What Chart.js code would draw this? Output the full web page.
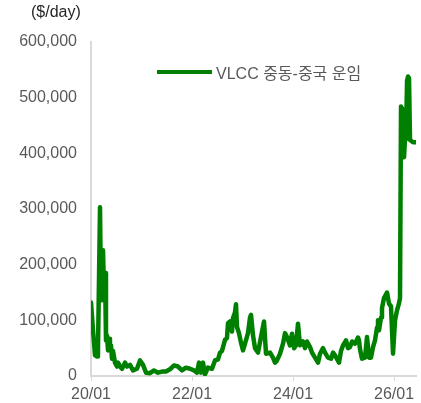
<!DOCTYPE html>
<html>
<head>
<meta charset="utf-8">
<script src="https://cdn.jsdelivr.net/npm/chart.js@4"></script>
<style>
body{margin:0;background:#fff;font-family:"Liberation Sans",Arial,"Noto Sans CJK KR",sans-serif;}
#wrap{position:relative;width:421px;height:403px;}
#unit{position:absolute;left:31px;top:3px;font-size:16px;color:#262626;}
#legend{position:absolute;left:157px;top:62px;height:20px;display:flex;align-items:center;font-size:16px;color:#595959;}
#legend .swatch{width:55px;height:4px;background:#008000;margin-right:4px;}
</style>
</head>
<body>
<div id="wrap">
<canvas id="chart" width="421" height="403"></canvas>
<div id="unit">($/day)</div>
<div id="legend"><span class="swatch"></span><span>VLCC 중동-중국 운임</span></div>
</div>
<script>
// months since 2020/01
let months=[0,0.48,0.95,1.43,1.66,2.14,2.38,2.5,2.61,2.85,3.09,3.33,3.56,3.8,4.04,4.28,4.51,4.75,4.99,5.23,5.7,6.18,6.42,6.89,7.37,8.08,8.55,9.27,9.98,10.93,11.64,12.36,13.07,14.02,14.97,15.92,16.87,17.82,18.77,19.72,20.67,21.62,22.57,23.52,24.47,25.19,25.66,26.14,26.61,27.09,27.8,28.75,29.46,30.18,30.65,31.12,31.84,32.31,32.55,33.02,33.5,33.74,34.21,34.45,34.69,35.16,35.64,36.12,36.59,37.3,37.78,38.02,38.49,38.97,39.68,40.39,41.11,41.58,42.53,43.24,43.72,44.19,44.91,45.62,46.1,46.57,47.28,47.76,48.24,48.71,49.18,49.66,50.37,50.85,51.32,52.04,52.51,53.22,53.94,54.41,55.13,55.6,56.31,57.03,57.5,57.98,58.93,59.4,59.88,60.59,61.07,61.54,62.02,62.73,63.44,63.68,63.92,64.39,65.1,65.58,66.06,66.53,67.01,67.48,67.96,68.19,68.43,68.91,69.14,69.62,70.33,70.81,71.28,71.76,72.24,72.71,73.19,73.42,73.66,74.14,74.38,74.61,74.85,75.09,75.33,75.56,75.8,76.51,77.22];
let rates=[132000,82000,37000,35000,46000,303000,136000,222000,140000,226000,154000,185000,64000,73000,46000,67000,52000,55000,31000,45000,24000,17000,24000,17000,13000,24000,17000,20000,10000,13000,28000,20000,6000,5000,10000,6000,8000,8000,12000,19000,17000,10000,15000,13000,10000,6000,24000,6000,24000,3000,15000,13000,28000,30000,42000,45000,65000,68000,95000,98000,80000,104000,114000,129000,88000,77000,60000,46000,58000,77000,105000,110000,73000,50000,42000,70000,98000,40000,42000,33000,24000,28000,40000,58000,77000,70000,55000,76000,50000,55000,94000,55000,62000,50000,62000,52000,42000,33000,24000,40000,50000,42000,33000,31000,42000,37000,24000,45000,55000,64000,50000,52000,62000,58000,69000,64000,48000,31000,33000,70000,33000,33000,52000,64000,87000,100000,82000,105000,122000,140000,150000,130000,125000,40000,100000,118000,131000,140000,484000,478000,393000,428000,425000,530000,538000,535000,424000,420000,420000];
let tickMonths=[0,24,48,72];
let tickLabels=["20/01","22/01","24/01","26/01"];
let seriesName="VLCC 중동-중국 운임";

let font={family:'"Liberation Sans", Arial, "Noto Sans CJK KR", sans-serif',size:16};
let ctx=document.getElementById('chart').getContext('2d');
new Chart(ctx,{
    type:'line',
    data:{datasets:[{label:seriesName,data:months.map((m,i)=>({x:m,y:rates[i]})),borderColor:'#008000',borderWidth:4.5,pointRadius:0,tension:0,borderJoinStyle:'round',borderCapStyle:'round'}]},
    options:{
        responsive:false,animation:false,
        layout:{padding:{top:42,right:5,left:0,bottom:0}},
        plugins:{legend:{display:false},tooltip:{enabled:false}},
        scales:{
            x:{type:'linear',min:0,max:77.22,
                afterBuildTicks:s=>{s.ticks=tickMonths.map(v=>({value:v}));},
                afterFit:s=>{s.height=27;},
                ticks:{font:font,color:'#595959',padding:4,maxRotation:0,autoSkip:false,callback:v=>tickLabels[tickMonths.indexOf(v)]},
                grid:{drawOnChartArea:false,drawTicks:true,tickLength:5,color:'#d9d9d9'},
                border:{color:'#d9d9d9',width:2}},
            y:{min:0,max:600000,
                afterFit:s=>{s.width=91;},
                ticks:{stepSize:100000,font:font,color:'#595959',padding:14,callback:v=>v.toLocaleString('en-US')},
                grid:{display:false,drawTicks:false},
                border:{display:true,color:'#d9d9d9',width:2}}
        }
    }
});
</script>
</body>
</html>
